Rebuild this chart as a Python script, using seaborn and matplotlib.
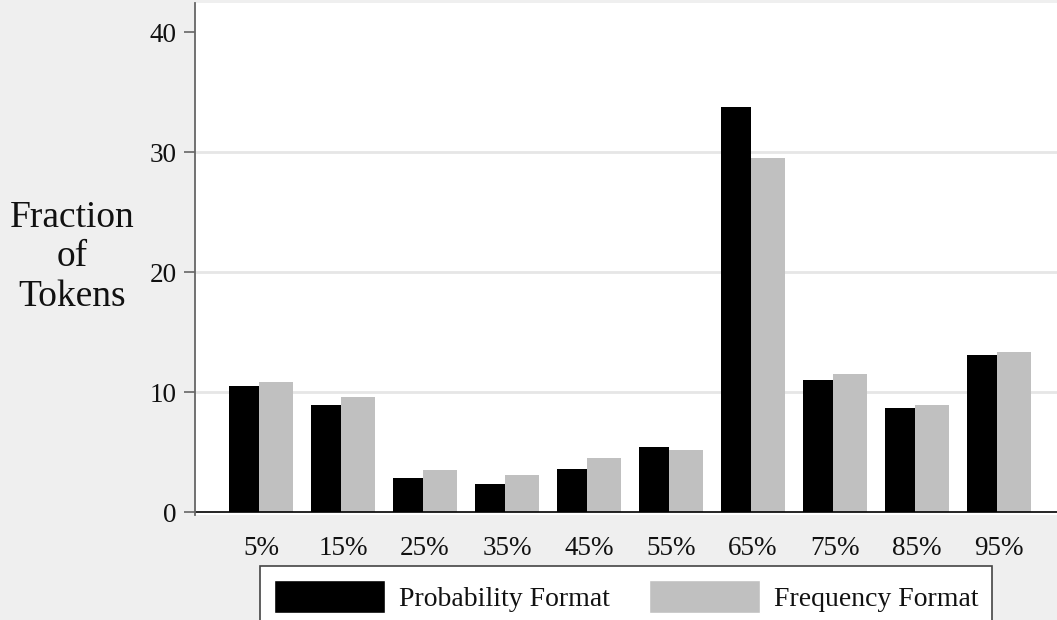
import matplotlib
matplotlib.use("Agg")
import matplotlib.pyplot as plt
import seaborn as sns
import pandas as pd

bins = ["5%", "15%", "25%", "35%", "45%", "55%", "65%", "75%", "85%", "95%"]
probability = [10.5, 8.9, 2.85, 2.35, 3.55, 5.4, 33.75, 11.0, 8.65, 13.1]
frequency = [10.8, 9.6, 3.5, 3.05, 4.5, 5.2, 29.5, 11.5, 8.9, 13.35]
series_names = ["Probability Format", "Frequency Format"]
yticks = [0, 10, 20, 30, 40]

df = pd.DataFrame({
    "bin": bins * 2,
    "value": probability + frequency,
    "format": [series_names[0]] * len(bins) + [series_names[1]] * len(bins),
})

sns.set_theme(style="white")
plt.rcParams["font.family"] = ["Liberation Serif", "DejaVu Serif"]

W, H = 1057, 620
fig = plt.figure(figsize=(W / 100, H / 100), dpi=100, facecolor="#efefef")
ax = fig.add_axes([195 / W, (H - 515) / H, (W - 195) / W, (515 - 3) / H])
ax.set_facecolor("white")

sns.barplot(data=df, x="bin", y="value", hue="format", order=bins,
            hue_order=series_names, palette=["black", "#c0c0c0"],
            width=0.79, gap=0, ax=ax, legend=True, saturation=1)

# slightly narrower black bars, slightly wider grey bars (as in reference)
if len(ax.containers) >= 2:
    for p in ax.containers[0]:
        p.set_width(0.37)
        p.set_linewidth(0)
    for p in ax.containers[1]:
        x0 = p.get_x()
        p.set_x(x0 - 0.025)
        p.set_width(0.42)
        p.set_linewidth(0)

handles, labels = ax.get_legend_handles_labels()
if ax.get_legend() is not None:
    ax.get_legend().remove()

ax.set_xlim(-0.805, 9.707)
ax.set_ylim(-0.25, (512 - 3) / 12)
ax.set_yticks(yticks)
ax.set_yticklabels([str(t) for t in yticks])
ax.set_xlabel("")
ax.set_ylabel("")

for t in [10, 20, 30]:
    ax.axhline(t, color="#e6e6e6", lw=2, zorder=0)
ax.axhline(0, color="black", lw=1.2, zorder=1)

for s in ["top", "right", "bottom"]:
    ax.spines[s].set_visible(False)
ax.spines["left"].set_color("#666666")
ax.spines["left"].set_linewidth(1.3)

ax.tick_params(axis="y", left=True, length=8, width=1.2, color="#666666",
               labelsize=19.5, pad=5, labelcolor="#111111")
ax.tick_params(axis="x", bottom=False, length=0, labelsize=19.5, pad=15,
               labelcolor="#111111")

fig.text(72 / W, 1 - 257 / H, "Fraction\nof\nTokens", ha="center", va="center",
         multialignment="center", fontsize=27, linespacing=1.18, color="#111111")

leg = fig.legend(handles, labels, loc="upper left",
                 bbox_to_anchor=(260 / W, 1 - 565.7 / H), ncol=2,
                 fontsize=20, frameon=True, fancybox=False, edgecolor="#444444",
                 framealpha=1, facecolor="white", handlelength=4.0,
                 handleheight=1.5, handletextpad=0.5, columnspacing=1.4,
                 borderpad=0.5, borderaxespad=0, labelcolor="#111111")
leg.get_frame().set_linewidth(1.2)

fig.savefig("out.png", dpi=100, facecolor=fig.get_facecolor())
